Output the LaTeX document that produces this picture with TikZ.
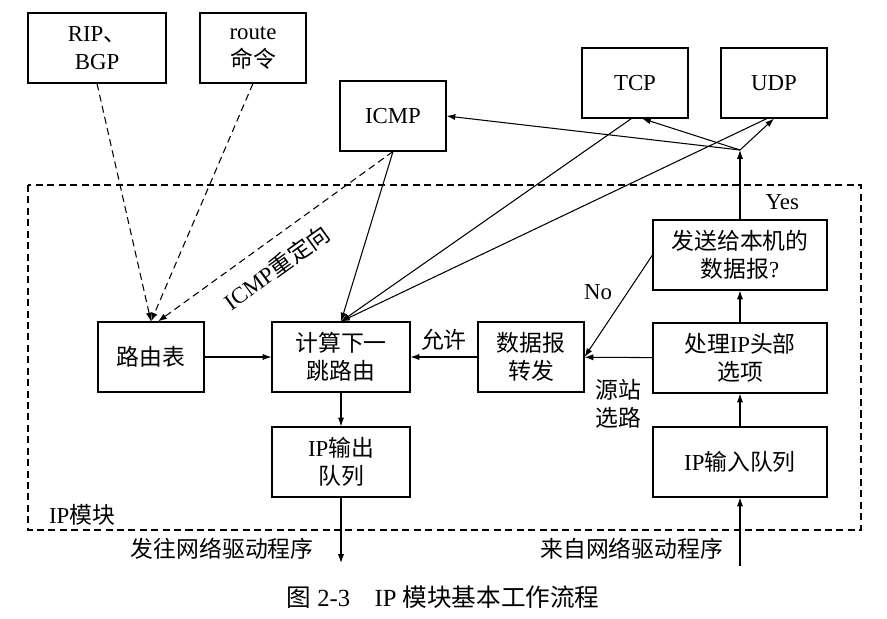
\documentclass[tikz,border=0pt]{standalone}
\usepackage{fontspec}
\setmainfont{Liberation Serif}
\newfontfamily\cjk{Noto Sans CJK SC}
\usetikzlibrary{arrows.meta}
\newcommand{\zhtext}[1]{{\cjk #1}}

\begin{document}
\begin{tikzpicture}[x=0.02cm, y=-0.02cm,
  box/.style={draw, line width=0.6pt, minimum width=2.12cm, minimum height=1.4cm,
    align=center, inner sep=2pt, font=\fontsize{13}{16}\selectfont},
  widebox/.style={box, minimum width=2.76cm},
  longbox/.style={box, minimum width=3.48cm},
  flow/.style={-{Latex[length=5pt,width=3.5pt]}, line width=0.6pt},
  feed/.style={flow, dash pattern=on 4pt off 2.5pt},
  lbl/.style={font=\fontsize{13}{16}\selectfont, align=center}]
  \useasboundingbox (0,0) rectangle (887,619);

  % IP module frame
  \draw[line width=0.6pt, dash pattern=on 4pt off 2.5pt] (28,185) rectangle (861,530);
  \node[lbl] (modname) at (82,515) {IP\zhtext{模块}};

  % outside the module
  \node[widebox] (rip) at (97,48) {RIP\zhtext{、}\\BGP};
  \node[box] (route) at (253,48) {route\\\zhtext{命令}};
  \node[box] (icmp) at (393,116) {ICMP};
  \node[box] (tcp) at (635,83) {TCP};
  \node[box] (udp) at (774,83) {UDP};

  % inside the module
  \node[longbox] (local) at (740,255) {\zhtext{发送给本机的}\\\zhtext{数据报}?};
  \node[box] (rtable) at (151,357) {\zhtext{路由表}};
  \node[widebox] (calc) at (341,357) {\zhtext{计算下一}\\\zhtext{跳路由}};
  \node[widebox] (outq) at (341,462) {IP\zhtext{输出}\\\zhtext{队列}};
  \node[box] (fwd) at (531,357) {\zhtext{数据报}\\\zhtext{转发}};
  \node[longbox] (hdr) at (740,358) {\zhtext{处理}IP\zhtext{头部}\\\zhtext{选项}};
  \node[longbox] (inq) at (740,462) {IP\zhtext{输入队列}};

  \coordinate (fork) at (740,150);
  \coordinate (drvout) at (341,563);
  \coordinate (drvin) at (740,566);

  % routing table updates
  \draw[feed] (rip.south) -- (rtable.north);
  \draw[feed] (route.south) -- (rtable.north);
  \draw[feed] (icmp.south) -- node[lbl, sloped, below=5pt, pos=0.56] {ICMP\zhtext{重定向}} ([xshift=4pt]rtable.north);

  % into next hop computation
  \draw[flow] (icmp.south) -- (calc.north);
  \draw[flow] ([xshift=-2pt]tcp.south) -- (calc.north);
  \draw[flow] ([xshift=-4pt]udp.south) -- (calc.north);
  \draw[flow] (rtable) -- (calc);
  \draw[flow] (fwd) -- node[lbl, above] {\zhtext{允许}} (calc);
  \draw[flow] (calc) -- (outq);
  \draw[flow] (outq) -- node[lbl, left=12pt, pos=0.78] {\zhtext{发往网络驱动程序}} (drvout);

  % input path
  \draw[flow] (drvin) -- node[lbl, left=6pt, pos=0.25] {\zhtext{来自网络驱动程序}} (inq);
  \draw[flow] (inq) -- (hdr);
  \draw[flow] (hdr) -- (local);
  \draw[flow] (hdr) -- node[lbl, below=9pt] {\zhtext{源站}\\\zhtext{选路}} (fwd);
  \draw[flow] (local.west) -- node[lbl, above left=0pt] {No} (fwd.east);

  % delivered to upper layers
  \draw[flow] (local) -- node[lbl, right=11pt, pos=0.25] {Yes} (fork);
  \draw[flow] (fork) -- (icmp.east);
  \draw[flow] (fork) -- ([xshift=4pt]tcp.south);
  \draw[flow] (fork) -- (udp.south);

  \node[font=\fontsize{14}{17}\selectfont] (caption) at (443,597) {\zhtext{图} 2-3\quad IP \zhtext{模块基本工作流程}};
\end{tikzpicture}
\end{document}
